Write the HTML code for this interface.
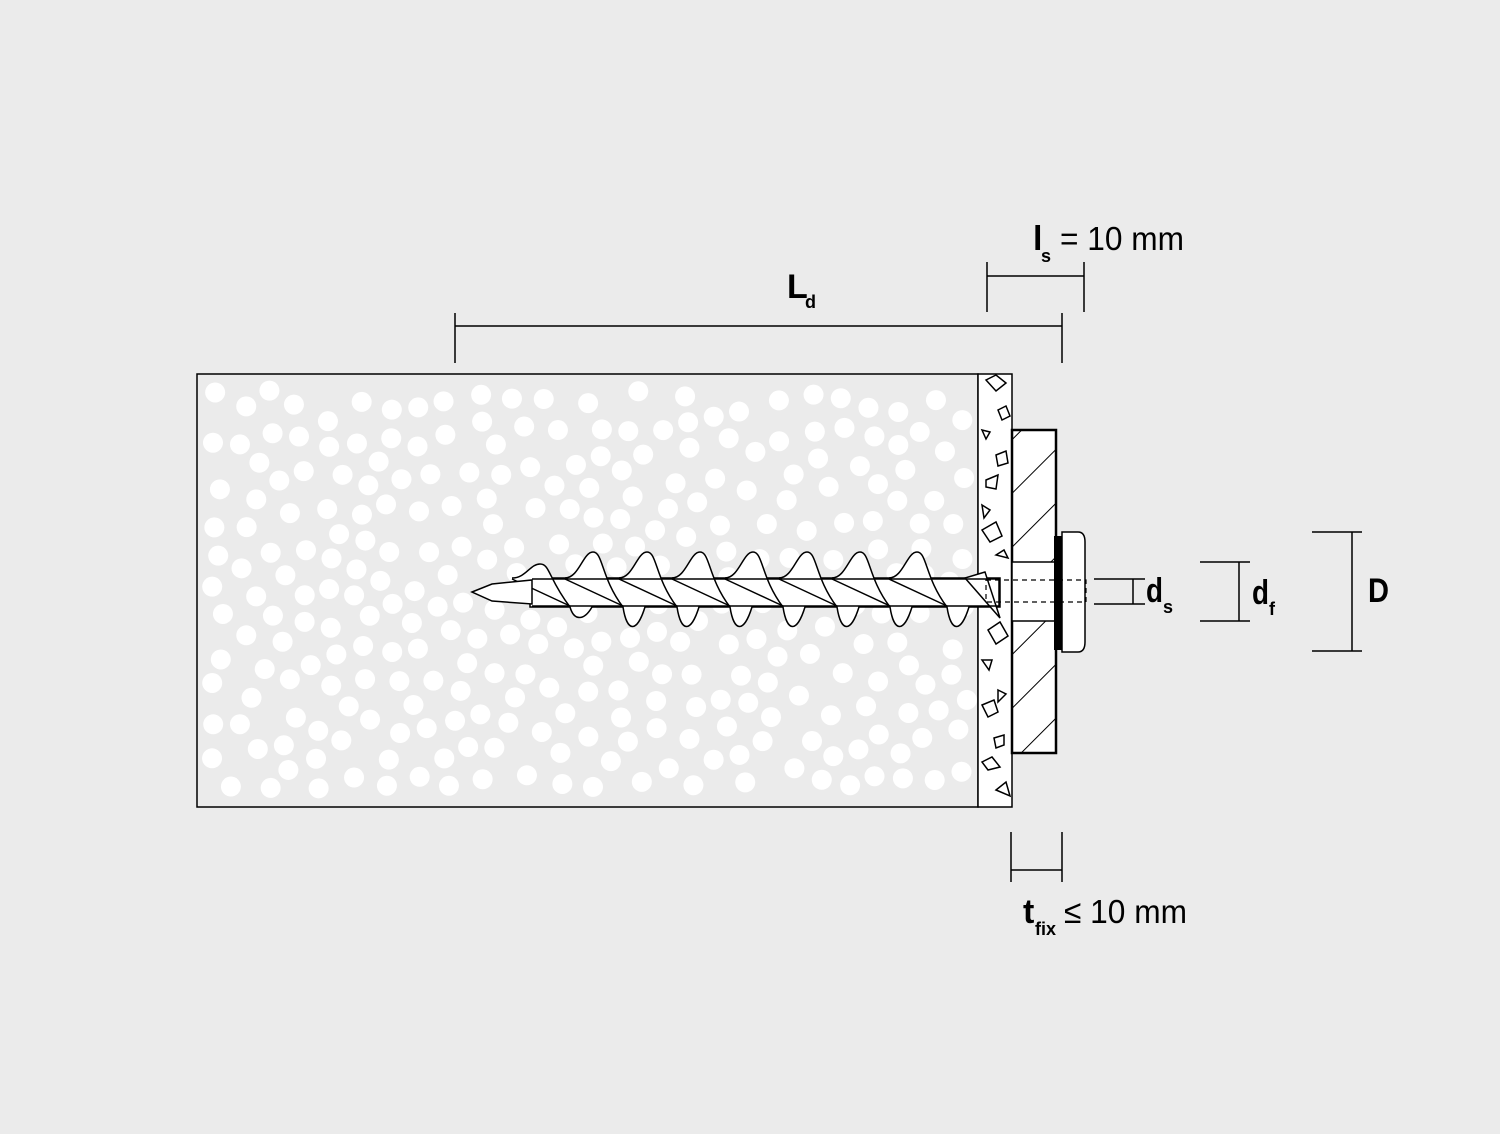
<!DOCTYPE html>
<html><head><meta charset="utf-8"><style>
html,body{margin:0;padding:0;background:#ebebeb}
svg{display:block}
text{font-family:"Liberation Sans Narrow","Liberation Sans",sans-serif;fill:#000}
</style></head><body>
<svg id="s" width="1500" height="1134" viewBox="0 0 1500 1134" xmlns="http://www.w3.org/2000/svg">
<defs>
<pattern id="h" patternUnits="userSpaceOnUse" width="38" height="38" patternTransform="rotate(-45)">
<rect width="38" height="38" fill="#fff"/><line x1="0" y1="0" x2="38" y2="0" stroke="#000" stroke-width="2"/>
</pattern>
<clipPath id="blk"><rect x="198" y="375" width="780" height="431"/></clipPath>
</defs>
<rect width="1500" height="1134" fill="#ebebeb"/>
<rect x="197" y="374" width="781" height="433" fill="#ebebeb" stroke="#000" stroke-width="1.5"/>
<g id="dots" clip-path="url(#blk)" fill="#fff"></g>
<!-- plaster -->
<rect x="978" y="374" width="34" height="433" fill="#fff" stroke="#000" stroke-width="1.5"/>
<g fill="none" stroke="#000" stroke-width="1.5">
<path d="M986 380l10 -5 10 8 -10 8z"/><path d="M998 410l8 -4 4 10 -8 4z"/><path d="M982 430l8 2 -4 7z"/>
<path d="M996 455l10 -4 2 12 -10 3z"/><path d="M986 480l12 -5 -2 14 -10 -2z"/><path d="M982 505l8 5 -6 8z"/>
<path d="M982 530l14 -8 6 14 -12 6z"/><path d="M996 555l8 -5 4 8z"/><path d="M988 630l12 -8 8 14 -12 8z"/>
<path d="M982 660l10 0 -3 10z"/><path d="M998 690l8 4 -8 8z"/><path d="M982 705l12 -5 4 12 -10 5z"/>
<path d="M994 738l10 -3 0 10 -8 3z"/><path d="M982 762l10 -5 8 10 -12 3z"/><path d="M996 790l10 -8 4 14z"/>
</g>
<!-- board -->
<rect x="1012" y="430" width="44" height="323" fill="url(#h)" stroke="#000" stroke-width="2.5"/>
<rect x="1012" y="562" width="44" height="59" fill="#fff" stroke="#000" stroke-width="1.5"/>
<!-- washer / head -->
<rect x="1054" y="536" width="9" height="114" fill="#000"/>
<path d="M1062 532h16q7 0 7 10v100q0 10-7 10h-16z" fill="#fff" stroke="#000" stroke-width="1.5"/>
<!-- screw -->
<g stroke="#000" stroke-width="1.5" fill="#fff" id="screw">
<path d="M530 578H1000V607H530z"/>
<path d="M985 572l-20 6 35 40 z"/>
</g>
<rect x="986" y="580" width="100" height="22" fill="none" stroke="#000" stroke-width="1.2" stroke-dasharray="5,4"/>
<path d="M472 592l20 -8 40 -4 0 24 -40 -3z" fill="#fff" stroke="#000" stroke-width="1.5"/>
<!-- dimensions -->
<g stroke="#000" stroke-width="1.5" fill="none">
<path d="M455 326H1062M455 313V363M1062 313V363"/>
<path d="M987 276H1084M987 262V312M1084 262V312"/>
<path d="M1011 870H1062M1011 832V882M1062 832V882"/>
<path d="M1094 579H1145M1094 604H1145M1133 579V604"/>
<path d="M1200 562H1250M1200 621H1250M1239 562V621"/>
<path d="M1312 532H1362M1312 651H1362M1352 532V651"/>
</g>
<text x="787" y="298" font-size="34" font-weight="bold">L</text><text x="805" y="308" font-size="18" font-weight="bold">d</text>
<text x="1033" y="250" font-size="34" font-weight="bold">l</text><text x="1041" y="262" font-size="18" font-weight="bold">s</text>
<text x="1060" y="250" font-size="33" textLength="124" lengthAdjust="spacingAndGlyphs">= 10 mm</text>
<text x="1023" y="923" font-size="34" font-weight="bold">t</text><text x="1035" y="935" font-size="18" font-weight="bold" textLength="21" lengthAdjust="spacingAndGlyphs">fix</text>
<text x="1064" y="923" font-size="33" textLength="123" lengthAdjust="spacingAndGlyphs">≤ 10 mm</text>
<text x="1146" y="602" font-size="34" font-weight="bold" textLength="17" lengthAdjust="spacingAndGlyphs">d</text><text x="1163" y="613" font-size="18" font-weight="bold">s</text>
<text x="1252" y="604" font-size="34" font-weight="bold" textLength="17" lengthAdjust="spacingAndGlyphs">d</text><text x="1269" y="615" font-size="18" font-weight="bold">f</text>
<text x="1368" y="602" font-size="34" font-weight="bold" textLength="21" lengthAdjust="spacingAndGlyphs">D</text>
</svg>
<script>
(function(){
var ns="http://www.w3.org/2000/svg";
var g=document.getElementById('dots');
var seed=7;function r(){seed=(seed*16807)%2147483647;return seed/2147483647;}
var pts=[];
for(var t=0;t<8000&&pts.length<400;t++){
 var x=212+r()*755,y=390+r()*400,ok=true;
 for(var i=0;i<pts.length;i++){var dx=pts[i][0]-x,dy=pts[i][1]-y;if(dx*dx+dy*dy<25*25){ok=false;break;}}
 if(ok)pts.push([x,y]);
}
pts.forEach(function(p){var c=document.createElementNS(ns,'circle');c.setAttribute('cx',p[0]);c.setAttribute('cy',p[1]);c.setAttribute('r',10);g.appendChild(c);});
var s=document.getElementById('screw');
var crest=[540,593,647,700,753,807,860,917];
crest.forEach(function(x,i){
 var a=(i==0)?14:26;
 var p=document.createElementNS(ns,'path');
 p.setAttribute('d','M'+(x-28)+' 578 C'+(x-14)+' 578 '+(x-10)+' '+(578-a)+' '+x+' '+(578-a)+' C'+(x+10)+' '+(578-a)+' '+(x+8)+' 578 '+(x+30)+' 607 C'+(x+34)+' '+(607+a)+' '+(x+44)+' '+(607+a)+' '+(x+52)+' 607');
 p.setAttribute('fill','#fff');
 s.appendChild(p);
});
var sh=document.createElementNS(ns,'path');
sh.setAttribute('d','M532 579H999V606H532');sh.setAttribute('fill','none');sh.setAttribute('stroke','#000');
s.appendChild(sh);
crest.forEach(function(x){var l=document.createElementNS(ns,'path');l.setAttribute('d','M'+(x-28)+' 579 L'+(x+30)+' 606');l.setAttribute('fill','none');s.appendChild(l);});
})();
</script>
</body></html>
